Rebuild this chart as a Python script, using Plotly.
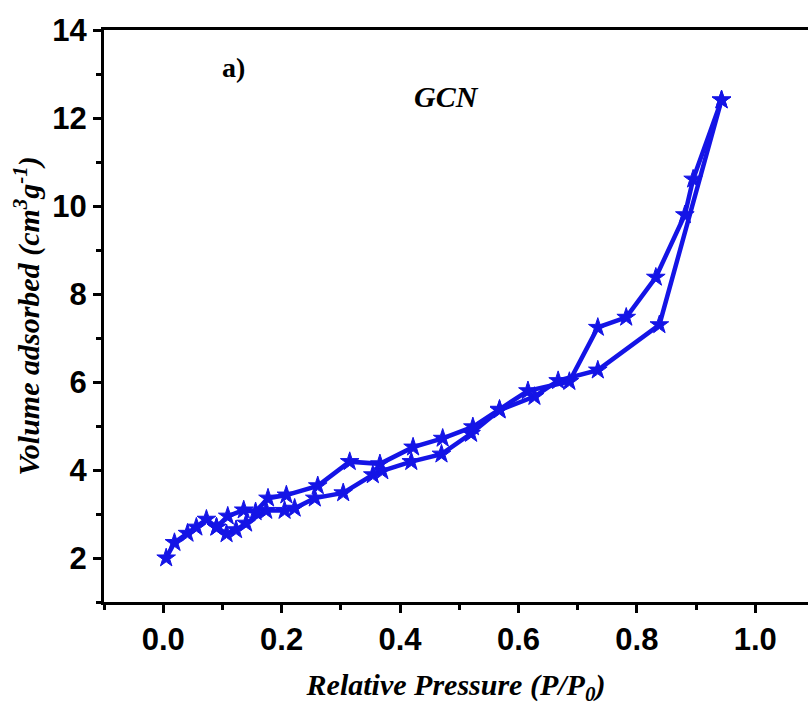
import plotly.graph_objects as go

# Adsorption branch (relative pressure, volume adsorbed)
p_ads = [0.005, 0.019, 0.041, 0.056, 0.073, 0.090, 0.107, 0.123, 0.140, 0.174,
         0.205, 0.222, 0.256, 0.304, 0.354, 0.370, 0.419, 0.470, 0.520, 0.568,
         0.627, 0.667, 0.734, 0.838, 0.943]
v_ads = [2.00, 2.35, 2.56, 2.70, 2.88, 2.70, 2.55, 2.64, 2.79, 3.08,
         3.08, 3.13, 3.36, 3.48, 3.89, 3.98, 4.19, 4.36, 4.83, 5.36,
         5.67, 6.03, 6.27, 7.30, 12.41]

# Desorption branch
p_des = [0.943, 0.895, 0.881, 0.832, 0.782, 0.734, 0.686, 0.616, 0.568, 0.523,
         0.472, 0.422, 0.366, 0.315, 0.261, 0.208, 0.177, 0.156, 0.136, 0.109, 0.090]
v_des = [12.41, 10.61, 9.80, 8.38, 7.47, 7.24, 6.01, 5.80, 5.38, 4.98,
         4.72, 4.52, 4.14, 4.19, 3.64, 3.43, 3.36, 3.05, 3.09, 2.95, 2.70]

x_ticks = [0.0, 0.2, 0.4, 0.6, 0.8, 1.0]
x_ticklabels = ["0.0", "0.2", "0.4", "0.6", "0.8", "1.0"]
y_ticks = [2, 4, 6, 8, 10, 12, 14]

blue = "#1414E6"

fig = go.Figure()
for px, py in [(p_ads, v_ads), (p_des, v_des)]:
    fig.add_trace(go.Scatter(
        x=px, y=py, mode="lines+markers",
        line=dict(color=blue, width=4.5),
        marker=dict(symbol="star", size=14, color=blue, line=dict(color=blue, width=1)),
        showlegend=False,
    ))

tick_font = dict(family="Liberation Sans, Arial", size=31, color="black", weight="bold")
title_font = dict(family="Liberation Serif, Times New Roman", size=30, color="black",
                  weight="bold", style="italic")

fig.update_layout(
    width=808, height=706,
    margin=dict(l=104, r=0, t=30, b=104),
    paper_bgcolor="white", plot_bgcolor="white",
    xaxis=dict(
        range=[-0.1, 1.089], tickvals=x_ticks, ticktext=x_ticklabels,
        showline=True, linecolor="black", linewidth=3, mirror=True,
        showgrid=False, zeroline=False,
        ticks="outside", ticklen=8, tickwidth=3, tickcolor="black",
        minor=dict(dtick=0.1, tick0=0, ticks="outside", ticklen=5, tickwidth=3,
                   tickcolor="black", showgrid=False),
        tickfont=tick_font,
        title=dict(text="Relative Pressure (P/P<sub>0</sub>)", font=title_font, standoff=19),
    ),
    yaxis=dict(
        range=[1, 14], tickvals=y_ticks,
        showline=True, linecolor="black", linewidth=3,
        showgrid=False, zeroline=False,
        ticks="outside", ticklen=8, tickwidth=3, tickcolor="black",
        minor=dict(dtick=1, tick0=0, ticks="outside", ticklen=5, tickwidth=3,
                   tickcolor="black", showgrid=False),
        tickfont=tick_font,
        title=dict(text="Volume adsorbed (cm<sup>3</sup>g<sup>-1</sup>)", font=title_font, standoff=4),
    ),
    annotations=[
        dict(text="a)", x=0.119, y=13.15, xref="x", yref="y", showarrow=False,
             font=dict(family="Liberation Serif, Times New Roman", size=28, color="black", weight="bold")),
        dict(text="GCN", x=0.479, y=12.5, xref="x", yref="y", showarrow=False,
             font=dict(family="Liberation Serif, Times New Roman", size=30, color="black",
                       weight="bold", style="italic")),
    ],
)

fig.write_html("out.html")
